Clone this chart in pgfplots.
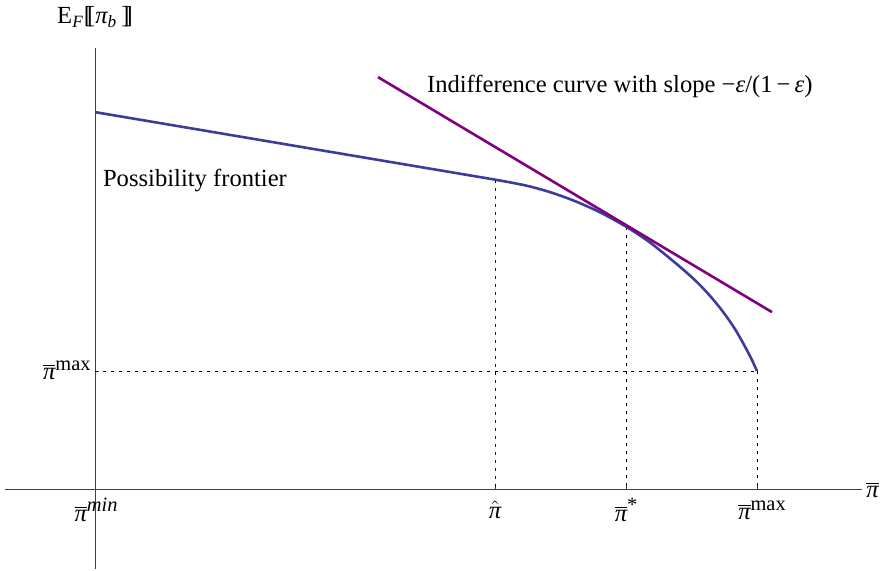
\documentclass[border=0pt]{standalone}
\usepackage{fontspec}
\setmainfont{Liberation Serif}
\usepackage{pgfplots}
\pgfplotsset{compat=1.18}
\definecolor{frontier}{rgb}{0.24,0.24,0.6}
\definecolor{indiff}{rgb}{0.5,0,0.5}
\newcommand{\ip}{{\itshape π}}
\newcommand{\pib}{$\overline{\mbox{\ip}}$}
\newcommand{\sups}[1]{\raisebox{0.85ex}{\fontsize{10.2}{10}\selectfont #1}}
\begin{document}
\begin{tikzpicture}[font=\fontsize{12.3}{14}\selectfont]
\begin{axis}[
  scale only axis, width=440.5pt, height=285pt,
  xmin=0, xmax=881, ymin=0, ymax=570,
  hide axis, clip=false,
]
\addplot[draw=none] coordinates {(0,0) (881,570)};
% axes
\addplot[black!75, line width=0.5pt] coordinates {(5,81) (862,81)};
\addplot[black!75, line width=0.5pt] coordinates {(95,1) (95,522)};
% ticks
\addplot[black!75, line width=0.5pt] coordinates {(495,81) (495,85)};
\addplot[black!75, line width=0.5pt] coordinates {(626,81) (626,85)};
\addplot[black!75, line width=0.5pt] coordinates {(757,81) (757,85)};
\addplot[black!75, line width=0.5pt] coordinates {(95,199) (99,199)};
% dashed guides
\addplot[black, line width=0.4pt, dash pattern=on 1.5pt off 2.5pt] coordinates {(495,390.5) (495,81)};
\addplot[black, line width=0.4pt, dash pattern=on 1.5pt off 2.5pt] coordinates {(626,343.5) (626,81)};
\addplot[black, line width=0.4pt, dash pattern=on 1.5pt off 2.5pt] coordinates {(757,199) (757,81)};
\addplot[black, line width=0.4pt, dash pattern=on 1.5pt off 2.5pt] coordinates {(95,199) (757,199)};
% frontier
\addplot[frontier, line width=1.3pt] coordinates {(95,458) (495,390.5)};
\addplot[frontier, line width=1.3pt, smooth] coordinates {
 (495,390.5) (525,384.8) (550,378.0) (575,369.0) (600,357.8) (626,343.5)
 (650,327.6) (675,307.5) (690,294.5) (700,285) (712,272) (724,257)
 (735,241) (745,223.5) (752,210) (757,199)};
% indifference line
\addplot[indiff, line width=1.3pt] coordinates {(378,493) (772,258)};
% labels
\node[anchor=west] at (axis cs:420,484) {Indifference curve with slope −\textit{ε}/(1\,−\,\textit{ε})};
\node[anchor=west] at (axis cs:96,390) {Possibility frontier};
\node at (axis cs:95,553) {E\textsubscript{\itshape F}[\kern-0.2em[\ip\textsubscript{\itshape b}\,]\kern-0.2em]};
\node[anchor=east, inner sep=1pt] at (axis cs:93,200) {\pib\sups{max}};
\node at (axis cs:96,60) {\pib\sups{\itshape min}};
\node at (axis cs:495,60) {$\hat{\mbox{\ip}}$};
\node at (axis cs:626,60) {\pib\sups{*}};
\node at (axis cs:762,60) {\pib\sups{max}};
\node[anchor=west, inner sep=1pt] at (axis cs:864,80) {\pib};
\end{axis}
\end{tikzpicture}
\end{document}
